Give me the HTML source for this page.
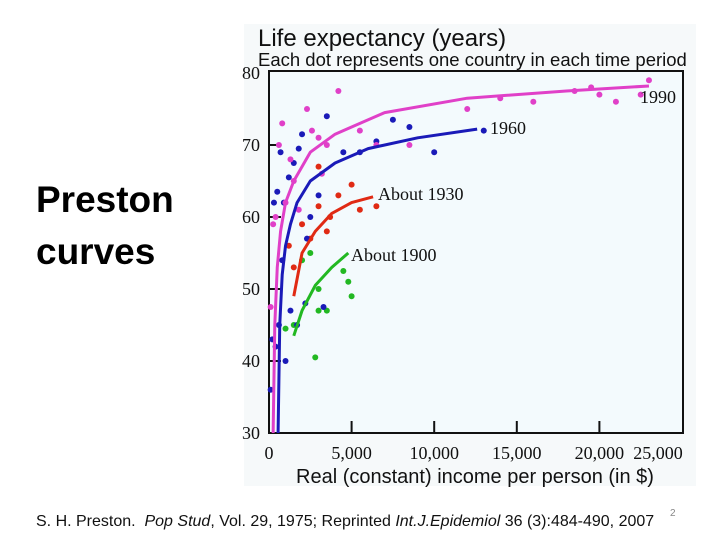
<!DOCTYPE html>
<html><head><meta charset="utf-8"><style>
body{margin:0;width:720px;height:540px;background:#fff;overflow:hidden;position:relative;font-family:"Liberation Sans",sans-serif}
.t{position:absolute;margin:0}
</style></head><body>
<div class="t" style="left:36px;top:174px;font-size:37px;line-height:52px;font-weight:bold;color:#000">Preston<br>curves</div>
<svg width="720" height="540" style="position:absolute;left:0;top:0">
<rect x="244" y="24" width="452" height="462" fill="#f6f9fa"/>
<rect x="269" y="71" width="414" height="362" fill="#f3fafd" stroke="#111" stroke-width="2"/>
<text x="258" y="46" font-size="24" fill="#111" font-family="Liberation Sans">Life expectancy (years)</text>
<text x="258" y="66" font-size="18.5" fill="#111" font-family="Liberation Sans">Each dot represents one country in each time period</text>
<text x="475" y="483" font-size="20" fill="#111" text-anchor="middle" font-family="Liberation Sans">Real (constant) income per person (in $)</text>
<g id="axes"></g><g id="series"></g>
</svg>
<div class="t" style="left:36px;top:513px;font-size:16px;color:#111;white-space:nowrap">S. H. Preston.&nbsp; <i>Pop Stud</i>, Vol. 29, 1975; Reprinted <i>Int.J.Epidemiol</i> 36 (3):484-490, 2007</div>
<div class="t" style="left:670px;top:508px;font-size:10px;color:#888">2</div>
<script>
const xTicks=[0,5000,10000,15000,20000,25000];
const xTickLabels=["0","5,000","10,000","15,000","20,000","25,000"];
const yTicks=[30,40,50,60,70,80];
const seriesNames=["1990","1960","About 1930","About 1900"];
const seriesColors=["#e040c8","#1a1ab8","#e02a14","#22b822"];
const curve1990X=[250,350,500,700,1000,1500,2500,4000,7000,12000,18000,23000];
const curve1990Y=[30,45,53,58,62,65,69,71.5,74.5,76.5,77.5,78.2];
const curve1960X=[550,650,800,1000,1300,1700,2500,4000,6000,9000,12600];
const curve1960Y=[30,45,52,56,59,62,65,67.5,69.5,71,72.2];
const curve1930X=[1500,2000,2800,3800,5000,6300];
const curve1930Y=[49,55,58,60.5,62,62.8];
const curve1900X=[1500,2000,2800,3800,4800];
const curve1900Y=[43.5,47,50.5,53,55];
const dots1990X=[100,250,400,600,800,1000,1300,1500,1800,2300,2600,3000,3200,3500,4200,5500,6500,8500,12000,14000,16000,18500,19500,20000,21000,22500,23000];
const dots1990Y=[47.5,59,60,70,73,62,68,65,61,75,72,71,66,70,77.5,72,70,70,75,76.5,76,77.5,78,77,76,77,79];
const dots1960X=[100,300,500,700,900,1200,1500,1800,2000,2300,2500,3000,3500,4500,5500,6500,7500,8500,10000,13000,200,400,600,800,1000,1300,1700,2200,3300];
const dots1960Y=[36,62,63.5,69,62,65.5,67.5,69.5,71.5,57,60,63,74,69,69,70.5,73.5,72.5,69,72,43,42,45,54,40,47,45,48,47.5];
const dots1930X=[1200,1500,2000,2500,3000,3500,3700,4200,5000,5500,6500,3000];
const dots1930Y=[56,53,59,57,61.5,58,60,63,64.5,61,61.5,67];
const dots1900X=[1000,1500,2000,2500,3000,3500,4500,4800,3000,2800,5000];
const dots1900Y=[44.5,45,54,55,50,47,52.5,51,47,40.5,49];
const X0=269,X1=682,Y0=433,Y1=73;
const sx=v=>X0+(v-0)/25000*(X1-X0);
const sy=v=>Y0-(v-30)/50*(Y0-Y1);
const NS="http://www.w3.org/2000/svg";
const ax=document.getElementById('axes'),sr=document.getElementById('series');
function mk(tag,attrs,parent){const e=document.createElementNS(NS,tag);for(const k in attrs)e.setAttribute(k,attrs[k]);parent.appendChild(e);return e;}
xTicks.forEach((t,i)=>{
 if(i>0&&i<5){const l=mk('line',{x1:sx(t),x2:sx(t),y1:Y0,y2:Y0-12,stroke:'#111','stroke-width':2},ax);
 
 }
 const tx=mk('text',{x:i==5?sx(t)-24:sx(t),y:459,'font-size':18,'text-anchor':'middle','font-family':'Liberation Serif',fill:'#111'},ax);
 tx.textContent=xTickLabels[i];
 
 
});
yTicks.forEach(t=>{
 if(t>30&&t<80){const l=mk('line',{x1:X0,x2:X0+12,y1:sy(t),y2:sy(t),stroke:'#111','stroke-width':2},ax);
 
 }
 const tx=mk('text',{x:260,y:sy(t)+6,'font-size':18,'text-anchor':'end','font-family':'Liberation Serif',fill:'#111'},ax);
 tx.textContent=t;
 
 
});
const dots=[[dots1990X,dots1990Y],[dots1960X,dots1960Y],[dots1930X,dots1930Y],[dots1900X,dots1900Y]];
const curves=[[curve1990X,curve1990Y],[curve1960X,curve1960Y],[curve1930X,curve1930Y],[curve1900X,curve1900Y]];
const labelPos=[[640,103],[490,134],[378,200],[351,261]];
[3,2,1,0].forEach(s=>{
 const [dx,dy]=dots[s];
 dx.forEach((v,i)=>{const c=mk('circle',{cx:sx(v),cy:sy(dy[i]),r:3,fill:seriesColors[s]},sr);
 
 });
});
[3,2,1,0].forEach(s=>{
 const [cx,cy]=curves[s];
 const p=mk('polyline',{points:cx.map((v,i)=>sx(v)+','+sy(cy[i])).join(' '),fill:'none',stroke:seriesColors[s],'stroke-width':3,'stroke-linejoin':'round'},sr);
 
 
 const t=mk('text',{x:labelPos[s][0],y:labelPos[s][1],'font-size':18,'font-family':'Liberation Serif',fill:'#111'},sr);
 t.textContent=seriesNames[s];
 
 
});
</script>
</body></html>
